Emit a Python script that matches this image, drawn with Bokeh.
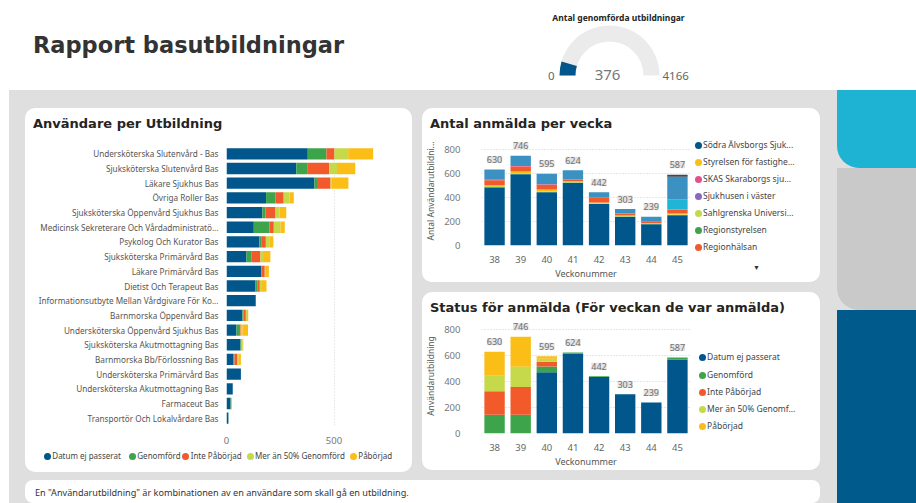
import numpy as np
from bokeh.plotting import figure
from bokeh.models import (ColumnDataSource, FactorRange, Range1d, LabelSet, Div, FixedTicker)
from bokeh.layouts import row, column
from bokeh.embed import file_html
from bokeh.resources import INLINE
from bokeh.core.properties import value

FONT = "Noto Sans"
TITLE_C = "#252423"
TICK_C = "#777777"
LABEL_C = "#555555"

BLUE = "#01578b"
GREEN = "#3ea44b"
RED = "#f25a2c"
LGREEN = "#c6d94b"
YELLOW = "#fbbe17"
PINK = "#e5508b"
PURPLE = "#8a66c6"
STEEL = "#3a91c2"
CYAN = "#1fb5d6"
DARK = "#3c4852"

# ---------------- data ----------------
report_title = "Rapport basutbildningar"
gauge_title = "Antal genomförda utbildningar"
gauge_min = 0
gauge_value = 376
gauge_max = 4166

status_names = ["Datum ej passerat", "Genomförd", "Inte Påbörjad", "Mer än 50% Genomförd", "Påbörjad"]
status_legend = ["Datum ej passerat", "Genomförd", "Inte Påbörjad", "Mer än 50% Genomf...", "Påbörjad"]
status_colors = [BLUE, GREEN, RED, LGREEN, YELLOW]

utbildningar = [
    "Undersköterska Slutenvård - Bas",
    "Sjuksköterska Slutenvård Bas",
    "Läkare Sjukhus Bas",
    "Övriga Roller Bas",
    "Sjuksköterska Öppenvård Sjukhus Bas",
    "Medicinsk Sekreterare Och Vårdadministratö...",
    "Psykolog Och Kurator Bas",
    "Sjuksköterska Primärvård Bas",
    "Läkare Primärvård Bas",
    "Dietist Och Terapeut Bas",
    "Informationsutbyte Mellan Vårdgivare För Ko...",
    "Barnmorska Öppenvård Bas",
    "Undersköterska Öppenvård Sjukhus Bas",
    "Sjuksköterska Akutmottagning Bas",
    "Barnmorska Bb/Förlossning Bas",
    "Undersköterska Primärvård Bas",
    "Undersköterska Akutmottagning Bas",
    "Farmaceut Bas",
    "Transportör Och Lokalvårdare Bas",
]
u_datum_ej_passerat = [378, 325, 409, 184, 167, 127, 153, 93, 161, 135, 136, 74, 46, 65, 31, 67, 29, 19, 9]
u_genomford = [87, 53, 12, 43, 15, 73, 11, 22, 3, 8, 0, 5, 12, 5, 6, 0, 0, 4, 0]
u_inte_paborjad = [37, 99, 63, 39, 46, 20, 19, 43, 14, 12, 0, 11, 8, 0, 12, 0, 0, 0, 0]
u_mer_an_50 = [64, 37, 6, 28, 19, 31, 16, 12, 2, 6, 0, 5, 8, 5, 6, 0, 0, 0, 0]
u_paborjad = [116, 85, 77, 19, 31, 20, 19, 34, 17, 25, 0, 6, 26, 3, 12, 0, 0, 0, 0]
u_ticks = [0, 500]

weeks = ["38", "39", "40", "41", "42", "43", "44", "45"]
y_ticks = [0, 200, 400, 600, 800]

# organisations, stacking order bottom -> top
org_names = ["Södra Älvsborgs Sjukhus", "Regionstyrelsen", "Sahlgrenska Universitetssjukhuset",
             "Styrelsen för fastighetsförvaltning", "Regionhälsan", "SKAS Skaraborgs sjukhus",
             "Sjukhusen i väster", "NU-sjukvården", "Närhälsan", "Kungälvs sjukhus"]
org_colors = [BLUE, GREEN, LGREEN, YELLOW, RED, PINK, PURPLE, CYAN, STEEL, DARK]
v_sodra = [482, 591, 442, 522, 344, 238, 177, 252]
v_regionstyrelsen = [3, 4, 3, 2, 2, 2, 2, 2]
v_sahlgrenska = [8, 6, 5, 3, 4, 4, 2, 3]
v_styrelsen = [8, 14, 14, 8, 8, 6, 4, 8]
v_regionhalsan = [40, 40, 40, 12, 42, 14, 16, 34]
v_skas = [5, 5, 5, 2, 0, 2, 2, 0]
v_sjukhusen_vaster = [0, 0, 0, 0, 0, 0, 0, 0]
v_nu = [0, 0, 0, 0, 0, 0, 0, 85]
v_narhalsan = [84, 86, 86, 75, 42, 37, 36, 186]
v_kungalv = [0, 0, 0, 0, 0, 0, 0, 17]
# legend as shown (scrollable legend, first 7 entries)
org_legend_names = ["Södra Älvsborgs Sjuk...", "Styrelsen för fastighe...", "SKAS Skaraborgs sju...",
                    "Sjukhusen i väster", "Sahlgrenska Universi...", "Regionstyrelsen", "Regionhälsan"]
org_legend_colors = [BLUE, YELLOW, PINK, PURPLE, LGREEN, GREEN, RED]

s_datum_ej_passerat = [0, 0, 473, 616, 436, 303, 239, 570]
s_genomford = [145, 145, 43, 8, 6, 0, 0, 17]
s_inte_paborjad = [180, 214, 37, 0, 0, 0, 0, 0]
s_mer_an_50 = [121, 155, 24, 0, 0, 0, 0, 0]
s_paborjad = [184, 232, 18, 0, 0, 0, 0, 0]

footer_text = 'En "Användarutbildning" är kombinationen av en användare som skall gå en utbildning.'

# ---------------- helpers ----------------
PANEL_STYLE = {"background-color": "white", "border-radius": "10px", "overflow": "hidden"}


def legend_div(w, h, names, colors, xs, ys, font_size, extra=""):
    """Key: circle markers with labels; xs/ys are marker centres in px from the box's top-left."""
    parts = ['<div style="position:relative;width:%dpx;height:%dpx;font-family:\'Noto Sans\';'
             'font-size:%s;color:#444444;white-space:nowrap">' % (w, h, font_size)]
    for n, c, x, y in zip(names, colors, xs, ys):
        parts.append('<span style="position:absolute;left:%.1fpx;top:%.1fpx;width:7px;height:7px;'
                     'border-radius:50%%;background:%s"></span>' % (x - 3.5, y - 3.5, c))
        parts.append('<span style="position:absolute;left:%.1fpx;top:%.1fpx;line-height:10px">%s</span>'
                     % (x + 5, y - 5.5, n))
    parts.append(extra)
    parts.append('</div>')
    return Div(text="".join(parts), width=w, height=h, margin=0)


def title_div(text, w, h):
    return Div(text=('<div style="padding:9px 0 0 8px;font-family:\'DejaVu Sans\';font-weight:bold;'
                     'font-size:13px;line-height:13px;color:%s;white-space:nowrap">%s</div>' % (TITLE_C, text)),
               width=w, height=h, margin=0)


def add_totals(p, src):
    kw = dict(x="week", y="total", text="total_text", source=src, y_offset=10,
              text_align="center", text_baseline="middle", text_font=value(FONT),
              text_font_size="9px", text_color="#707070", background_fill_color="#e3e3e3")
    try:
        ls = LabelSet(padding=(1, 4, 1, 4), border_radius=3, **kw)
    except (AttributeError, ValueError):
        ls = LabelSet(**kw)
    p.add_layout(ls)


def style_week_axes(p, ylabel):
    p.yaxis.ticker = FixedTicker(ticks=y_ticks)
    p.yaxis.axis_line_color = None
    p.yaxis.major_tick_line_color = None
    p.yaxis.minor_tick_line_color = None
    p.yaxis.major_label_text_font = FONT
    p.yaxis.major_label_text_font_size = "9.5px"
    p.yaxis.major_label_text_color = TICK_C
    p.yaxis.major_label_standoff = 15
    p.yaxis.axis_label = ylabel
    p.yaxis.axis_label_text_font = FONT
    p.yaxis.axis_label_text_font_size = "8.5px"
    p.yaxis.axis_label_text_font_style = "normal"
    p.yaxis.axis_label_text_color = LABEL_C
    p.yaxis.axis_label_standoff = 5
    p.xaxis.axis_line_color = None
    p.xaxis.major_tick_line_color = None
    p.xaxis.major_label_text_font = FONT
    p.xaxis.major_label_text_font_size = "9.5px"
    p.xaxis.major_label_text_color = "#666666"
    p.xaxis.major_label_standoff = 4
    p.xaxis.axis_label = "Veckonummer"
    p.xaxis.axis_label_text_font = FONT
    p.xaxis.axis_label_text_font_size = "9px"
    p.xaxis.axis_label_text_font_style = "normal"
    p.xaxis.axis_label_text_color = LABEL_C
    p.xaxis.axis_label_standoff = 1
    p.xgrid.grid_line_color = None
    p.ygrid.grid_line_color = "#cfcfcf"
    p.ygrid.grid_line_dash = "1 2"


# ---------------- header ----------------
head_title = Div(
    text=('<div style="padding:34px 0 0 33px;font-family:\'DejaVu Sans\';font-weight:bold;'
          'font-size:22.5px;line-height:22px;color:#333333;white-space:nowrap">%s</div>' % report_title),
    width=498, height=90, margin=0)

pg = figure(width=220, height=90, x_range=Range1d(-111, 109), y_range=Range1d(-15, 75),
            x_axis_type=None, y_axis_type=None, output_backend="svg", toolbar_location=None,
            min_border=0, outline_line_color=None, margin=0,
            background_fill_color="white", border_fill_color="white")
pg.grid.visible = False
frac = gauge_value / gauge_max
pg.annular_wedge(x=[0], y=[0], inner_radius=34, outer_radius=50, start_angle=[0.0],
                 end_angle=[np.pi], fill_color="#ebebeb", line_color=None)
pg.annular_wedge(x=[0], y=[0], inner_radius=34, outer_radius=50,
                 start_angle=[np.pi * (1 - frac)], end_angle=[np.pi], fill_color=BLUE, line_color=None)
pg.text(x=[9], y=[58], text=[gauge_title], text_font=value(FONT), text_font_style="bold",
        text_font_size="8.5px", text_align="center", text_baseline="middle", text_color=TITLE_C)
pg.text(x=[-55], y=[0], text=[str(gauge_min)], text_font=value(FONT), text_font_size="11.5px",
        text_align="right", text_baseline="alphabetic", text_color="#666666")
pg.text(x=[-2], y=[1], text=[str(gauge_value)], text_font=value(FONT), text_font_size="15px",
        text_align="center", text_baseline="alphabetic", text_color="#777777")
pg.text(x=[53], y=[0], text=[str(gauge_max)], text_font=value(FONT), text_font_size="11.5px",
        text_align="left", text_baseline="alphabetic", text_color="#666666")

header = row(head_title, pg, Div(text="", width=198, height=90, margin=0))

# ---------------- left panel: Användare per Utbildning ----------------
src_u = ColumnDataSource(dict(cat=utbildningar, **{
    status_names[0]: u_datum_ej_passerat, status_names[1]: u_genomford,
    status_names[2]: u_inte_paborjad, status_names[3]: u_mer_an_50, status_names[4]: u_paborjad}))

p1 = figure(width=387, height=308, y_range=FactorRange(factors=utbildningar[::-1]),
            x_range=Range1d(0, 800), output_backend="svg", toolbar_location=None,
            min_border_left=201, min_border_right=14, min_border_top=8, min_border_bottom=20,
            background_fill_color="white", border_fill_color="white", outline_line_color=None,
            margin=0)
p1.hbar_stack(status_names, y="cat", height=0.77, fill_color=status_colors, line_color=None, source=src_u)
p1.yaxis.axis_line_color = None
p1.yaxis.major_tick_line_color = None
p1.yaxis.major_label_text_font = FONT
p1.yaxis.major_label_text_font_size = "8.2px"
p1.yaxis.major_label_text_color = LABEL_C
p1.yaxis.major_label_standoff = 2
p1.xaxis.ticker = FixedTicker(ticks=u_ticks)
p1.xaxis.axis_line_color = None
p1.xaxis.major_tick_line_color = None
p1.xaxis.minor_tick_line_color = None
p1.xaxis.major_label_text_font = FONT
p1.xaxis.major_label_text_font_size = "9.5px"
p1.xaxis.major_label_text_color = TICK_C
p1.xaxis.major_label_standoff = 5
p1.ygrid.grid_line_color = None
p1.xgrid.ticker = FixedTicker(ticks=u_ticks[1:])
p1.xgrid.grid_line_color = "#d5d5d5"
p1.xgrid.grid_line_dash = "1 2"

lg1 = legend_div(387, 26, status_names, status_colors,
                 [22.3, 107.3, 160.7, 225.0, 328.3], [10.7] * 5, "8px")
left_panel = column(title_div("Användare per Utbildning", 387, 30), p1, lg1, styles=PANEL_STYLE)

# ---------------- top right: Antal anmälda per vecka ----------------
org_series = [v_sodra, v_regionstyrelsen, v_sahlgrenska, v_styrelsen, v_regionhalsan,
              v_skas, v_sjukhusen_vaster, v_nu, v_narhalsan, v_kungalv]
d2 = dict(week=weeks)
for n, s in zip(org_names, org_series):
    d2[n] = s
tot2 = np.sum(np.array(org_series), axis=0)
d2["total"] = tot2.tolist()
d2["total_text"] = [str(int(t)) for t in tot2]
src2 = ColumnDataSource(d2)

p2 = figure(width=268, height=146, x_range=FactorRange(factors=weeks), y_range=Range1d(0, 905),
            output_backend="svg", toolbar_location=None,
            min_border_left=54, min_border_right=0, min_border_top=0, min_border_bottom=32,
            background_fill_color="white", border_fill_color="white", outline_line_color=None,
            margin=0)
p2.vbar_stack(org_names, x="week", width=0.78, fill_color=org_colors, line_color=None, source=src2)
style_week_axes(p2, "Antal Användarutbildni...")
add_totals(p2, src2)

n2 = len(org_legend_names)
arrow = ('<span style="position:absolute;left:63px;top:127px;font-size:7px;line-height:10px;'
         'color:#333333">▼</span>')
lg2 = legend_div(130, 146, org_legend_names, org_legend_colors,
                 [8.0] * n2, [9 + 17 * i for i in range(n2)], "8.5px", extra=arrow)

top_panel = column(title_div("Antal anmälda per vecka", 398, 28), row(p2, lg2), styles=PANEL_STYLE)

# ---------------- bottom right: Status för anmälda ----------------
status_series = [s_datum_ej_passerat, s_genomford, s_inte_paborjad, s_mer_an_50, s_paborjad]
d3 = dict(week=weeks)
for n, s in zip(status_names, status_series):
    d3[n] = s
tot3 = np.sum(np.array(status_series), axis=0)
d3["total"] = tot3.tolist()
d3["total_text"] = [str(int(t)) for t in tot3]
src3 = ColumnDataSource(d3)

p3 = figure(width=268, height=152, x_range=FactorRange(factors=weeks), y_range=Range1d(0, 887),
            output_backend="svg", toolbar_location=None,
            min_border_left=54, min_border_right=0, min_border_top=0, min_border_bottom=30,
            background_fill_color="white", border_fill_color="white", outline_line_color=None,
            margin=0)
p3.vbar_stack(status_names, x="week", width=0.78, fill_color=status_colors, line_color=None, source=src3)
style_week_axes(p3, "Användarutbildning")
add_totals(p3, src3)

n3 = len(status_legend)
lg3 = legend_div(130, 152, status_legend, status_colors,
                 [12.0] * n3, [39.7 + 17.25 * i for i in range(n3)], "8.5px")
bottom_panel = column(title_div("Status för anmälda (För veckan de var anmälda)", 398, 26),
                      row(p3, lg3), styles=PANEL_STYLE, margin=(10, 0, 0, 0))

# ---------------- layout ----------------
right_col = column(top_panel, bottom_panel, margin=(0, 0, 0, 10))
panels_row = row(left_panel, right_col, margin=(18, 17, 0, 16))
footer = Div(
    text=('<div style="padding:8px 0 0 10px;font-family:\'Noto Sans\';font-size:9.1px;'
          'line-height:10px;color:#333333;white-space:nowrap">%s</div>' % footer_text),
    width=795, height=23, margin=(8, 0, 0, 16),
    styles={"background-color": "white", "border-radius": "8px"})
main_col = column(panels_row, footer)

teal = Div(text="", width=79, height=78, margin=0,
           styles={"background-color": "#1fb3d3", "border-bottom-left-radius": "22px"})
mid = Div(text="", width=79, height=142, margin=0,
          styles={"background-color": "#c9c9c9", "border-bottom-left-radius": "22px"})
dark = Div(text="", width=79, height=193, margin=0,
           styles={"background-color": "#005a8c"})
deco_col = column(teal, mid, dark)

body = row(main_col, deco_col, margin=(0, 0, 0, 9), styles={"background-color": "#dfdfdf"})
root = column(header, body)

open("out.html", "w").write(file_html(root, INLINE))
